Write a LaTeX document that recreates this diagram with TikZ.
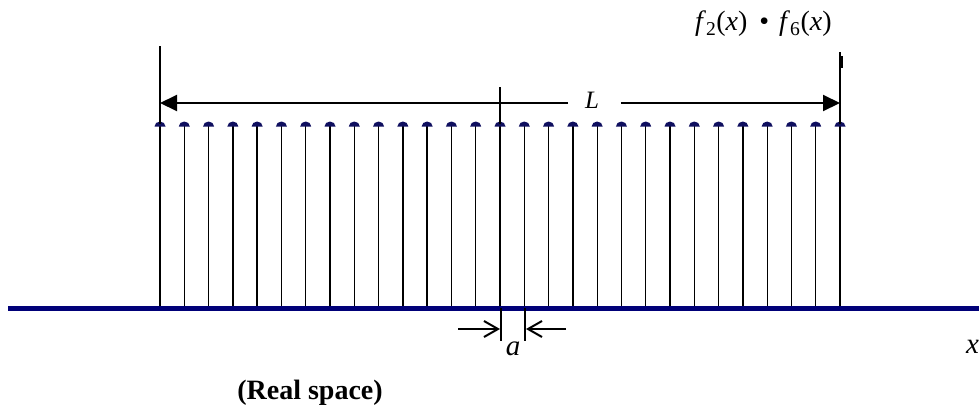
\documentclass[tikz,border=0pt]{standalone}
\usepackage{fontspec}
\setmainfont{Liberation Serif}
\usetikzlibrary{arrows.meta}
\definecolor{axisnavy}{RGB}{0,0,120}
\definecolor{dotnavy}{RGB}{15,15,95}
\begin{document}
\begin{tikzpicture}[x=1pt,y=-1pt,
  stem/.style={line width=1.3pt,black},
  bigarrow/.style={line width=2pt,-{Triangle[length=17pt,width=16pt]}},
  smallarrow/.style={line width=2pt,-{Straight Barb[length=14pt,width=16pt,line width=2pt]}},
  lbl/.style={inner sep=0pt,outer sep=0pt}]
\useasboundingbox (0,0) rectangle (979,410);
% axis
\coordinate (axL) at (8,308);
\coordinate (axR) at (979,308);
\draw[axisnavy,line width=5pt] (axL) -- (axR);
% stems with dots
\foreach \i in {0,...,28}{
  \pgfmathsetmacro\xx{160+\i*24.2857}
  \coordinate (t\i) at (\xx,124);
  \coordinate (b\i) at (\xx,306);
  \draw[stem] (t\i) -- (b\i);
  \fill[dotnavy] (\xx-5.5,126.5) arc[start angle=180,end angle=360,x radius=5.5,y radius=5] -- cycle;
}
% tall stems
\coordinate (top0) at (160,46);
\coordinate (top14) at (500,87);
\coordinate (top28) at (840,52);
\draw[stem,line width=1.6pt] (top0) -- (t0);
\draw[stem,line width=1.6pt] (top14) -- (t14);
\draw[stem,line width=1.6pt] (top28) -- (t28);
\draw[line width=2.2pt] (842,56) -- (842,68);
% L arrow
\node[lbl,font=\fontsize{25}{25}\selectfont\itshape] (L) at (592,100) {L};
\coordinate (Lleft) at (160,103);
\coordinate (Lright) at (840,103);
\draw[bigarrow,shorten <=17pt] (L.west |- Lleft) -- (Lleft);
\draw[bigarrow,shorten <=22pt] (L.east |- Lright) -- (Lright);
% spacing a
\coordinate (s1) at (501,308);
\coordinate (s1b) at (501,341);
\coordinate (s2) at (525,308);
\coordinate (s2b) at (525,341);
\draw[stem,line width=1.6pt] (s1) -- (s1b);
\draw[stem,line width=1.6pt] (s2) -- (s2b);
\coordinate (la) at (458,329);
\coordinate (lb) at (500,329);
\coordinate (ra) at (566,329);
\coordinate (rb) at (526,329);
\draw[smallarrow] (la) -- (lb);
\draw[smallarrow] (ra) -- (rb);
\node[lbl,font=\fontsize{29}{29}\selectfont\itshape] (a) at (513,349) {a};
\node[lbl,anchor=west,font=\fontsize{29}{29}\selectfont\itshape] (xlab) at (966,347) {x};
% title texts
\node[lbl,anchor=west,font=\fontsize{28}{28}\selectfont] (fx) at (695,24) {\textit{f}\textsubscript{2}(\textit{x})\hspace{12pt}\textbullet\hspace{10pt}\textit{f}\textsubscript{6}(\textit{x})};
\node[lbl,font=\fontsize{28}{28}\selectfont\bfseries] (rs) at (310,393) {(Real space)};
\end{tikzpicture}
\end{document}
